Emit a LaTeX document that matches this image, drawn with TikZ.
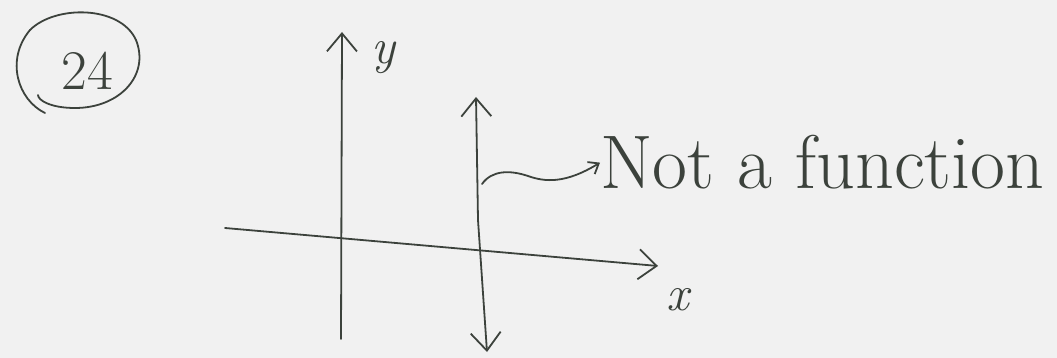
\documentclass[tikz,border=0pt]{standalone}
\usepackage{fontspec}
\usetikzlibrary{arrows.meta}
\definecolor{ink}{HTML}{3C423C}
\definecolor{paper}{HTML}{F1F1F1}
\tikzset{
  pen/.style={draw=ink, line width=1.8pt, line cap=round, line join=round},
  barb/.style={-{Straight Barb[length=18pt,width=30pt,line width=1.8pt]}},
  hand/.style={text=ink, inner sep=0pt, font=\itshape\fontsize{50}{50}\selectfont},
}
\begin{document}
\begin{tikzpicture}[x=1pt,y=-1pt]
\fill[paper] (0,0) rectangle (1057,358);
\useasboundingbox (0,0) rectangle (1057,358);
% problem number
\node[hand, font=\fontsize{56}{56}\selectfont] (num) at (87,71) {24};
\draw[pen] (45,113) .. controls (18,100) and (5,60) .. (30,30)
  .. controls (55,5) and (120,5) .. (136,40)
  .. controls (150,75) and (120,108) .. (75,108)
  .. controls (50,108) and (38,100) .. (38,95);
% axes
\coordinate (ybot) at (341,339);
\coordinate (ytop) at (342,32);
\coordinate (xl) at (225,228);
\coordinate (xr) at (658,266);
\draw[pen, barb] (ybot) -- (ytop);
\draw[pen, barb] (xl) -- (xr);
\node[hand] (ylab) at (383,58) {y};
\node[hand] (xlab) at (678,300) {x};
% vertical line test
\coordinate (vtop) at (476,97);
\coordinate (vmid) at (478,220);
\coordinate (vbot) at (487,352);
\draw[pen, barb] (vmid) -- (vtop);
\draw[pen, barb] (vmid) -- (vbot);
% label
\node[text=ink, inner sep=0pt, anchor=base west, font=\fontsize{76}{76}\selectfont] (lab) at (600,189) {Not a function};
\coordinate (sq) at (482,184);
\draw[pen, -{Straight Barb[length=9pt,width=14pt,line width=1.8pt]}] (sq) .. controls (492,170) and (510,170) .. (528,176) .. controls (545,182) and (565,184) .. (lab.west);
\end{tikzpicture}
\end{document}
